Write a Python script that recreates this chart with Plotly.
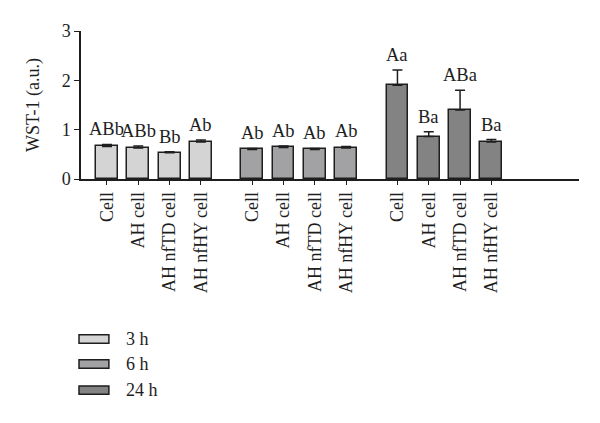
import plotly.graph_objects as go

# ---- data ----
categories = ["Cell", "AH cell", "AH nfTD cell", "AH nfHY cell"]
times = ["3 h", "6 h", "24 h"]
values_3h = [0.66, 0.63, 0.53, 0.75]
values_6h = [0.60, 0.64, 0.60, 0.63]
values_24h = [1.90, 0.86, 1.40, 0.75]
errors_3h = [0.04, 0.04, 0.02, 0.04]
errors_6h = [0.02, 0.03, 0.02, 0.03]
errors_24h = [0.31, 0.10, 0.40, 0.05]
labels_3h = ["ABb", "ABb", "Bb", "Ab"]
labels_6h = ["Ab", "Ab", "Ab", "Ab"]
labels_24h = ["Aa", "Ba", "ABa", "Ba"]
y_ticks = [0, 1, 2, 3]

# ---- style ----
FONT = "Liberation Serif"
INK = "#1e1e1e"
colors = ["#d4d4d4", "#a2a2a4", "#838383"]
GROUP_GAP = 0.64
BAR_W = 0.7

series_vals = [values_3h, values_6h, values_24h]
series_errs = [errors_3h, errors_6h, errors_24h]
series_labels = [labels_3h, labels_6h, labels_24h]

fig = go.Figure()
tickvals, ticktext = [], []
annotations = []
n = len(categories)
for g, t in enumerate(times):
    xs = [g * (n + GROUP_GAP) + i for i in range(n)]
    tickvals += xs
    ticktext += categories
    fig.add_trace(go.Bar(
        x=xs, y=series_vals[g], name=t, width=BAR_W,
        marker=dict(color=colors[g], line=dict(color=INK, width=1.5)),
        error_y=dict(type="data", array=series_errs[g], arrayminus=[0] * n,
                     symmetric=False, color=INK, thickness=1.5, width=5),
        showlegend=False,
    ))
    for x, v, e, lab in zip(xs, series_vals[g], series_errs[g], series_labels[g]):
        annotations.append(dict(
            x=x, y=v + e, xref="x", yref="y", text=lab, showarrow=False,
            yanchor="bottom", yshift=3, font=dict(family=FONT, size=18.5, color=INK)))

# legend drawn as swatches + text below the plot
shapes = []
leg_y = [-1.081, -1.25, -1.426]
for g, t in enumerate(times):
    shapes.append(dict(type="rect", xref="paper", yref="paper",
                       x0=-0.004, x1=0.056, y0=leg_y[g] - 0.028, y1=leg_y[g] + 0.028,
                       fillcolor=colors[g], line=dict(color=INK, width=1.5)))
    annotations.append(dict(x=0.086, y=leg_y[g], xref="paper", yref="paper",
                            text=t, showarrow=False, xanchor="left", yanchor="middle",
                            font=dict(family=FONT, size=18, color=INK)))

fig.update_layout(
    width=600, height=423,
    margin=dict(l=73, r=29, t=23, b=252, autoexpand=False),
    plot_bgcolor="white", paper_bgcolor="white",
    font=dict(family=FONT, size=18, color=INK),
    bargap=0,
    annotations=annotations,
    shapes=shapes,
    showlegend=False,
)
fig.update_xaxes(
    range=[-0.83, 15.08], tickvals=tickvals, ticktext=ticktext, tickangle=-90,
    showline=True, linecolor=INK, linewidth=1.5, ticks="outside", ticklen=4,
    tickwidth=1.2, tickcolor=INK, showgrid=False, zeroline=False,
    tickfont=dict(family=FONT, size=18, color=INK), automargin=False,
)
fig.update_yaxes(
    range=[0, 3], tickvals=y_ticks, showline=True, linecolor=INK, linewidth=1.5,
    ticks="outside", ticklen=5, tickwidth=1.2, tickcolor=INK, showgrid=False,
    zeroline=False, tickfont=dict(family=FONT, size=18, color=INK),
    title=dict(text="WST-1 (a.u.)", font=dict(family=FONT, size=18, color=INK), standoff=17),
    automargin=False,
)

fig.write_html("out.html")
